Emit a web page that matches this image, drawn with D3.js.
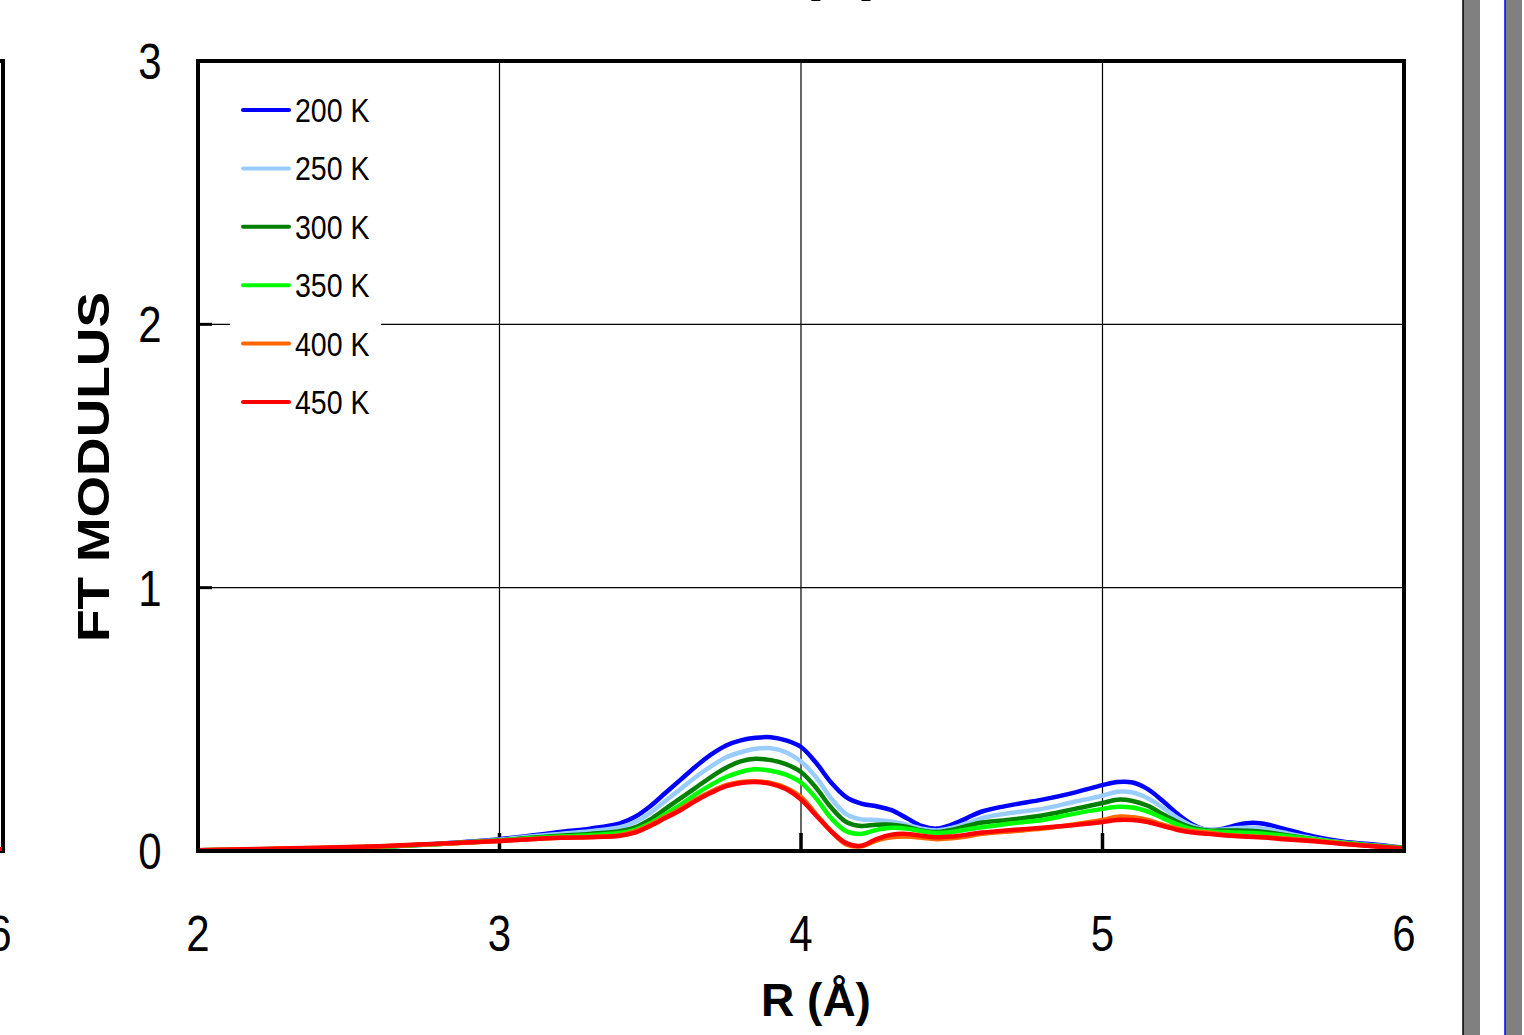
<!DOCTYPE html>
<html>
<head>
<meta charset="utf-8">
<script src="https://cdn.jsdelivr.net/npm/d3@7"></script>
<style>
  html, body { margin: 0; padding: 0; background: #fff; overflow: hidden; }
  svg { display: block; }
</style>
</head>
<body>
<svg id="chart"></svg>
<script>
// Define width and height
const width = 1524;
const height = 1035;

// Data
const rValues = [2.0, 2.2, 2.4, 2.6, 2.8, 3.0, 3.1, 3.2, 3.3, 3.4, 3.45, 3.5, 3.55, 3.6, 3.65, 3.7, 3.75, 3.8, 3.85, 3.9, 3.95,
  4.0, 4.05, 4.1, 4.15, 4.2, 4.25, 4.3, 4.35, 4.4, 4.45, 4.5, 4.55, 4.6, 4.7, 4.8, 4.9, 5.0, 5.05, 5.1, 5.15, 5.2, 5.25,
  5.3, 5.35, 5.4, 5.45, 5.5, 5.55, 5.6, 5.7, 5.8, 5.9, 6.0];

const ft200 = [0.003, 0.005, 0.008, 0.015, 0.028, 0.045, 0.058, 0.072, 0.085, 0.105, 0.13, 0.17, 0.22, 0.27, 0.32, 0.365, 0.40, 0.42, 0.43, 0.432, 0.42,
  0.395, 0.335, 0.26, 0.205, 0.18, 0.17, 0.155, 0.125, 0.095, 0.085, 0.10, 0.125, 0.15, 0.175, 0.195, 0.22, 0.25, 0.262, 0.26, 0.235, 0.19, 0.14,
  0.10, 0.08, 0.085, 0.10, 0.107, 0.10, 0.085, 0.055, 0.035, 0.025, 0.012];
const ft250 = [0.003, 0.005, 0.008, 0.015, 0.027, 0.043, 0.055, 0.065, 0.075, 0.09, 0.11, 0.145, 0.19, 0.235, 0.28, 0.32, 0.355, 0.375, 0.388, 0.39, 0.375,
  0.34, 0.28, 0.20, 0.14, 0.12, 0.118, 0.112, 0.10, 0.085, 0.078, 0.088, 0.105, 0.125, 0.145, 0.16, 0.185, 0.21, 0.225, 0.222, 0.20, 0.165, 0.125,
  0.095, 0.08, 0.082, 0.087, 0.088, 0.082, 0.07, 0.048, 0.032, 0.022, 0.012];
const ft300 = [0.003, 0.005, 0.009, 0.016, 0.027, 0.040, 0.05, 0.058, 0.065, 0.075, 0.09, 0.12, 0.16, 0.20, 0.24, 0.28, 0.315, 0.34, 0.35, 0.345, 0.33,
  0.30, 0.24, 0.165, 0.11, 0.095, 0.10, 0.10, 0.092, 0.078, 0.072, 0.08, 0.095, 0.108, 0.12, 0.135, 0.158, 0.182, 0.195, 0.19, 0.172, 0.14, 0.11,
  0.088, 0.078, 0.078, 0.078, 0.076, 0.07, 0.062, 0.045, 0.03, 0.02, 0.012];
const ft350 = [0.003, 0.006, 0.01, 0.016, 0.027, 0.040, 0.048, 0.055, 0.06, 0.068, 0.08, 0.105, 0.14, 0.175, 0.215, 0.25, 0.28, 0.30, 0.31, 0.305, 0.29,
  0.26, 0.20, 0.125, 0.075, 0.065, 0.08, 0.088, 0.085, 0.075, 0.068, 0.072, 0.082, 0.09, 0.105, 0.118, 0.14, 0.16, 0.168, 0.165, 0.15, 0.125, 0.10,
  0.082, 0.075, 0.072, 0.07, 0.068, 0.064, 0.058, 0.045, 0.03, 0.02, 0.012];
const ft400 = [0.003, 0.007, 0.011, 0.017, 0.027, 0.038, 0.045, 0.05, 0.053, 0.06, 0.075, 0.10, 0.13, 0.16, 0.195, 0.225, 0.25, 0.262, 0.265, 0.258, 0.24,
  0.205, 0.14, 0.075, 0.025, 0.018, 0.04, 0.052, 0.055, 0.05, 0.045, 0.048, 0.055, 0.065, 0.075, 0.085, 0.10, 0.118, 0.13, 0.128, 0.118, 0.10, 0.085,
  0.075, 0.07, 0.062, 0.058, 0.055, 0.052, 0.048, 0.04, 0.028, 0.018, 0.008];
const ft450 = [0.003, 0.008, 0.012, 0.018, 0.028, 0.038, 0.045, 0.05, 0.052, 0.058, 0.07, 0.095, 0.125, 0.155, 0.19, 0.22, 0.245, 0.258, 0.262, 0.255, 0.235,
  0.195, 0.135, 0.075, 0.03, 0.02, 0.045, 0.062, 0.065, 0.058, 0.052, 0.055, 0.062, 0.07, 0.08, 0.088, 0.098, 0.11, 0.118, 0.118, 0.11, 0.095, 0.08,
  0.07, 0.065, 0.06, 0.056, 0.053, 0.05, 0.045, 0.037, 0.027, 0.018, 0.01];

const seriesNames = ["200 K", "250 K", "300 K", "350 K", "400 K", "450 K"];
const seriesValues = [ft200, ft250, ft300, ft350, ft400, ft450];
const seriesColors = ["#0000ff", "#99ccff", "#008000", "#00ff00", "#ff6600", "#ff0000"];

const xTicks = [2, 3, 4, 5, 6];
const yTicks = [0, 1, 2, 3];

// Plot box
const plotLeft = 198, plotRight = 1404, plotTop = 61, plotBottom = 851;

const svg = d3.select("#chart")
    .attr("width", width)
    .attr("height", height);

const x = d3.scaleLinear().domain([2, 6]).range([plotLeft, plotRight]);
const y = d3.scaleLinear().domain([0, 3]).range([plotBottom, plotTop]);

const tickFont = "'Liberation Sans', Arial, sans-serif";
const squeeze = 0.84; // the original digits are narrower than Liberation Sans

// Cut-off title at the very top
svg.append("text")
    .attr("x", 841)
    .attr("y", -9)
    .attr("text-anchor", "middle")
    .attr("textLength", 84)
    .attr("lengthAdjust", "spacingAndGlyphs")
    .style("font-family", "'Liberation Sans', Arial, sans-serif")
    .style("font-weight", "bold")
    .style("font-size", "46px")
    .text("(b)");

// Piece of the neighbouring panel on the left
svg.append("path")
    .attr("d", `M-20,${plotTop} L3,${plotTop} L3,${plotBottom} L-20,${plotBottom}`)
    .attr("fill", "none")
    .attr("stroke", "#000")
    .attr("stroke-width", 4);
svg.append("line")
    .attr("x1", -20).attr("x2", 2)
    .attr("y1", plotBottom - 2).attr("y2", plotBottom - 2)
    .attr("stroke", "#ff0000")
    .attr("stroke-width", 4);
svg.append("text")
    .attr("transform", `translate(0,951) scale(${squeeze},1)`)
    .attr("text-anchor", "middle")
    .style("font-family", tickFont)
    .style("font-size", "50px")
    .text("6");

// Grid
const grid = svg.append("g");
grid.selectAll(".vgrid")
    .data(xTicks.slice(1, -1))
    .enter().append("line")
    .attr("x1", d => x(d)).attr("x2", d => x(d))
    .attr("y1", plotTop).attr("y2", plotBottom)
    .attr("stroke", "#000")
    .attr("stroke-width", 1.2);
grid.selectAll(".hgrid")
    .data(yTicks.slice(1, -1))
    .enter().append("line")
    .attr("x1", plotLeft).attr("x2", plotRight)
    .attr("y1", d => y(d)).attr("y2", d => y(d))
    .attr("stroke", "#000")
    .attr("stroke-width", 1.2);

// Major ticks (inward, thick)
svg.selectAll(".ytick")
    .data(yTicks.slice(1, -1))
    .enter().append("line")
    .attr("x1", plotLeft).attr("x2", plotLeft + 14)
    .attr("y1", d => y(d)).attr("y2", d => y(d))
    .attr("stroke", "#000")
    .attr("stroke-width", 3);
svg.selectAll(".xtick")
    .data(xTicks.slice(1, -1))
    .enter().append("line")
    .attr("x1", d => x(d)).attr("x2", d => x(d))
    .attr("y1", plotBottom).attr("y2", plotBottom - 18)
    .attr("stroke", "#000")
    .attr("stroke-width", 3.5);

// Curves
const line = d3.line()
    .x(d => x(d[0]))
    .y(d => y(d[1]))
    .curve(d3.curveCatmullRom.alpha(0.5));

svg.append("defs").append("clipPath")
    .attr("id", "plot-clip")
    .append("rect")
    .attr("x", plotLeft).attr("y", plotTop)
    .attr("width", plotRight - plotLeft).attr("height", plotBottom - plotTop);

svg.append("g")
    .attr("clip-path", "url(#plot-clip)")
    .selectAll("path")
    .data(seriesValues)
    .enter().append("path")
    .attr("d", vals => line(rValues.map((r, i) => [r, vals[i]])))
    .attr("fill", "none")
    .attr("stroke", (d, i) => seriesColors[i])
    .attr("stroke-width", 4.5)
    .attr("stroke-linejoin", "round");

// Frame
svg.append("rect")
    .attr("x", plotLeft).attr("y", plotTop)
    .attr("width", plotRight - plotLeft).attr("height", plotBottom - plotTop)
    .attr("fill", "none")
    .attr("stroke", "#000")
    .attr("stroke-width", 4);

// Legend (white box hides the grid behind it)
const legend = svg.append("g");
legend.append("rect")
    .attr("x", 230).attr("y", 84)
    .attr("width", 151).attr("height", 345)
    .attr("fill", "#fff");
const legendRows = legend.selectAll(".row")
    .data(seriesNames)
    .enter().append("g")
    .attr("transform", (d, i) => `translate(0,${110 + i * 58.4})`);
legendRows.append("line")
    .attr("x1", 243).attr("x2", 289)
    .attr("y1", 0).attr("y2", 0)
    .attr("stroke", (d, i) => seriesColors[i])
    .attr("stroke-width", 4)
    .attr("stroke-linecap", "round");
legendRows.append("text")
    .attr("transform", `translate(295,12) scale(${squeeze},1)`)
    .style("font-family", tickFont)
    .style("font-size", "34px")
    .text(d => d);

// Tick labels
svg.selectAll(".ylabel")
    .data(yTicks)
    .enter().append("text")
    .attr("transform", d => `translate(150,${y(d) + 18}) scale(${squeeze},1)`)
    .attr("text-anchor", "middle")
    .style("font-family", tickFont)
    .style("font-size", "50px")
    .text(d => d);
svg.selectAll(".xlabel")
    .data(xTicks)
    .enter().append("text")
    .attr("transform", d => `translate(${x(d)},951) scale(${squeeze},1)`)
    .attr("text-anchor", "middle")
    .style("font-family", tickFont)
    .style("font-size", "50px")
    .text(d => d);

// Axis titles
svg.append("text")
    .attr("x", 816)
    .attr("y", 1016)
    .attr("text-anchor", "middle")
    .style("font-family", "'Liberation Sans', Arial, sans-serif")
    .style("font-weight", "bold")
    .style("font-size", "46px")
    .text("R (Å)");
svg.append("text")
    .attr("transform", "translate(109,467) rotate(-90)")
    .attr("text-anchor", "middle")
    .attr("textLength", 350)
    .attr("lengthAdjust", "spacingAndGlyphs")
    .style("font-family", "'Liberation Sans', Arial, sans-serif")
    .style("font-weight", "bold")
    .style("font-size", "45px")
    .text("FT MODULUS");

// Window edge on the right
svg.append("rect")
    .attr("x", 1463).attr("y", 0)
    .attr("width", 17).attr("height", height)
    .attr("fill", "#808080");
svg.append("line")
    .attr("x1", 1463).attr("x2", 1463)
    .attr("y1", 0).attr("y2", height)
    .attr("stroke", "#000")
    .attr("stroke-width", 1.5);
svg.append("rect")
    .attr("x", 1505).attr("y", 0)
    .attr("width", 17).attr("height", height)
    .attr("fill", "#808080");
svg.append("line")
    .attr("x1", 1505).attr("x2", 1505)
    .attr("y1", 0).attr("y2", height)
    .attr("stroke", "#0000ff")
    .attr("stroke-width", 1.5);
</script>
</body>
</html>
